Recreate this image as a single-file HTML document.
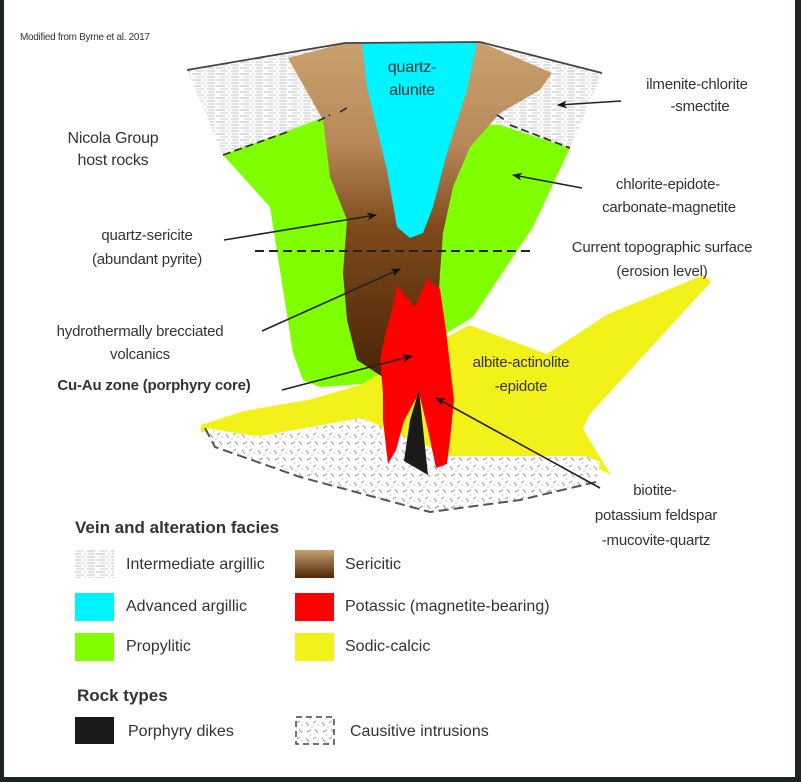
<!DOCTYPE html>
<html><head><meta charset="utf-8"><style>
html,body{margin:0;padding:0;background:#fff;}
body{width:801px;height:782px;overflow:hidden;position:relative;}
svg{position:absolute;left:0;top:0;}
text{font-family:"Liberation Sans",sans-serif;fill:#333;}
</style></head><body>
<svg width="801" height="782" viewBox="0 0 801 782">
<defs>
<pattern id="hat" width="24" height="6" patternUnits="userSpaceOnUse">
<rect width="24" height="6" fill="#fbfbfb"/>
<line x1="0" y1="2" x2="9" y2="2" stroke="#c4c4c4" stroke-width="1"/>
<line x1="12" y1="2" x2="14" y2="2" stroke="#d0d0d0" stroke-width="1"/>
<line x1="16" y1="2" x2="22" y2="2" stroke="#c4c4c4" stroke-width="1"/>
<line x1="4" y1="5" x2="12" y2="5" stroke="#d0d0d0" stroke-width="1"/>
<line x1="15" y1="5" x2="23" y2="5" stroke="#c4c4c4" stroke-width="1"/>
</pattern>
<pattern id="intr" width="16" height="16" patternUnits="userSpaceOnUse">
<rect width="16" height="16" fill="#fff"/>
<line x1="2" y1="2" x2="5" y2="6" stroke="#999" stroke-width="1"/>
<line x1="9" y1="3" x2="12" y2="1" stroke="#999" stroke-width="1"/>
<line x1="11" y1="9" x2="14" y2="13" stroke="#999" stroke-width="1"/>
<line x1="3" y1="12" x2="7" y2="10" stroke="#999" stroke-width="1"/>
<circle cx="8" cy="7" r="0.6" fill="#999"/>
<circle cx="14" cy="5" r="0.6" fill="#999"/>
<circle cx="6" cy="15" r="0.6" fill="#999"/>
</pattern>
<linearGradient id="brn" x1="0" y1="0" x2="0" y2="1">
<stop offset="0" stop-color="#c9a06e"/>
<stop offset="0.3" stop-color="#b8895a"/>
<stop offset="0.55" stop-color="#7e4a1c"/>
<stop offset="1" stop-color="#4a2404"/>
</linearGradient>
<linearGradient id="brn2" x1="0" y1="0" x2="0" y2="1">
<stop offset="0" stop-color="#c9a06e"/>
<stop offset="1" stop-color="#4e2606"/>
</linearGradient>
<marker id="ah" markerWidth="10" markerHeight="8" refX="9" refY="4" orient="auto" markerUnits="userSpaceOnUse">
<path d="M0,0 L10,4 L0,8 L3,4 Z" fill="#111"/>
</marker>
</defs>

<rect x="0" y="0" width="4" height="782" fill="#1e2422"/>
<rect x="795" y="0" width="6" height="782" fill="#1e2422"/>
<rect x="0" y="777" width="801" height="5" fill="#1e2422"/>

<polygon points="187,70 345,43 480,42 602,73 570,148 500,125 330,115 223,155" fill="url(#hat)"/>
<polygon points="223,155 330,115 500,125 570,148 533,227 473,317 447,333 420,380 320,387 303,380 293,353 270,207" fill="#80ff00"/>
<polygon points="201,425 244,411 308,400 360,385 469,325 547,354 608,314 704,275 711,282 590,414 583,429 611,475 583,461 447,457 361,418 261,436 201,432" fill="#f2f21a"/>
<polygon points="205,428 215,447 300,477 430,512 520,500 596,482 600,462 585,456 450,456 362,418 262,437" fill="url(#intr)"/>
<path d="M205,428 L215,447 L300,477 L430,512 L520,500 L596,482" fill="none" stroke="#555" stroke-width="2" stroke-dasharray="10,5"/>
<polygon points="288,58 345,43 480,42 552,73 540,90 500,113 470,147 453,187 443,233 440,273 437,327 420,370 387,380 357,360 347,320 343,273 347,220 330,177 323,120" fill="url(#brn)"/>
<polygon points="362,43 477,43 467,90 447,153 433,207 423,233 410,238 397,227 387,170 367,87" fill="#00f4ff"/>
<polygon points="385,336 392,310 397,286 415,307 427,279 440,289 446,330 454,400 450,440 447,464 436,468 428,430 419,393 404,421 396,450 388,464 383,420 383,393 380,360" fill="#ff0000"/>
<polygon points="419,390 428,475 404,461 410,420" fill="#1a1a1a"/>

<polyline points="187,70 345,43 480,42 602,73" fill="none" stroke="#444" stroke-width="1.8"/>
<path d="M223,155 L290,131 M318,121 L330,115 M340,112 L350,106 M497,115 L505,120 M510,125 L570,148" fill="none" stroke="#333" stroke-width="1.8" stroke-dasharray="8,4"/>
<line x1="255" y1="251" x2="530" y2="251" stroke="#222" stroke-width="2" stroke-dasharray="9,5"/>

<g stroke="#222" stroke-width="1.6" fill="none" marker-end="url(#ah)">
<line x1="621" y1="101" x2="558" y2="105"/>
<line x1="582" y1="188" x2="513" y2="175"/>
<line x1="224" y1="240" x2="376" y2="215"/>
<line x1="262" y1="331" x2="400" y2="269"/>
<line x1="282" y1="390" x2="412" y2="356"/>
<line x1="600" y1="488" x2="436" y2="398"/>
</g>

<text x="20" y="40" font-size="10" letter-spacing="-0.3">Modified from Byrne et al. 2017</text>
<g font-size="15" text-anchor="middle" letter-spacing="-0.2">
<text x="412" y="72" font-size="16" fill="#1a3a3a">quartz-</text>
<text x="412" y="95" font-size="16" fill="#1a3a3a">alunite</text>
<text x="697" y="89">ilmenite-chlorite</text>
<text x="700" y="111">-smectite</text>
<text x="113" y="143" font-size="16">Nicola Group</text>
<text x="113" y="165" font-size="16">host rocks</text>
<text x="668" y="189">chlorite-epidote-</text>
<text x="669" y="212">carbonate-magnetite</text>
<text x="147" y="240">quartz-sericite</text>
<text x="147" y="264">(abundant pyrite)</text>
<text x="662" y="252">Current topographic surface</text>
<text x="662" y="276">(erosion level)</text>
<text x="140" y="336">hydrothermally brecciated</text>
<text x="140" y="359">volcanics</text>
<text x="154" y="390" font-weight="bold" fill="#222">Cu-Au zone (porphyry core)</text>
<text x="521" y="367">albite-actinolite</text>
<text x="521" y="391">-epidote</text>
<text x="655" y="495">biotite-</text>
<text x="656" y="520">potassium feldspar</text>
<text x="656" y="545">-mucovite-quartz</text>
</g>

<text x="75" y="533" font-size="17" font-weight="bold" fill="#111">Vein and alteration facies</text>
<rect x="75" y="550" width="39" height="28" fill="url(#hat)"/>
<rect x="75" y="593" width="39" height="28" fill="#00f4ff"/>
<rect x="75" y="633" width="39" height="28" fill="#80ff00"/>
<rect x="295" y="550" width="39" height="28" fill="url(#brn2)"/>
<rect x="295" y="593" width="39" height="28" fill="#ff0000"/>
<rect x="295" y="633" width="39" height="28" fill="#f2f21a"/>
<g font-size="16" fill="#333">
<text x="126" y="569">Intermediate argillic</text>
<text x="126" y="611">Advanced argillic</text>
<text x="126" y="651">Propylitic</text>
<text x="345" y="569">Sericitic</text>
<text x="345" y="611">Potassic (magnetite-bearing)</text>
<text x="345" y="651">Sodic-calcic</text>
</g>
<text x="77" y="701" font-size="17" font-weight="bold" fill="#111">Rock types</text>
<rect x="75" y="717" width="39" height="27" fill="#1a1a1a"/>
<rect x="296" y="717" width="38" height="27" fill="url(#intr)" stroke="#444" stroke-width="1.5" stroke-dasharray="6,4"/>
<g font-size="16" fill="#333">
<text x="128" y="736">Porphyry dikes</text>
<text x="350" y="736">Causitive intrusions</text>
</g>
</svg>
</body></html>
